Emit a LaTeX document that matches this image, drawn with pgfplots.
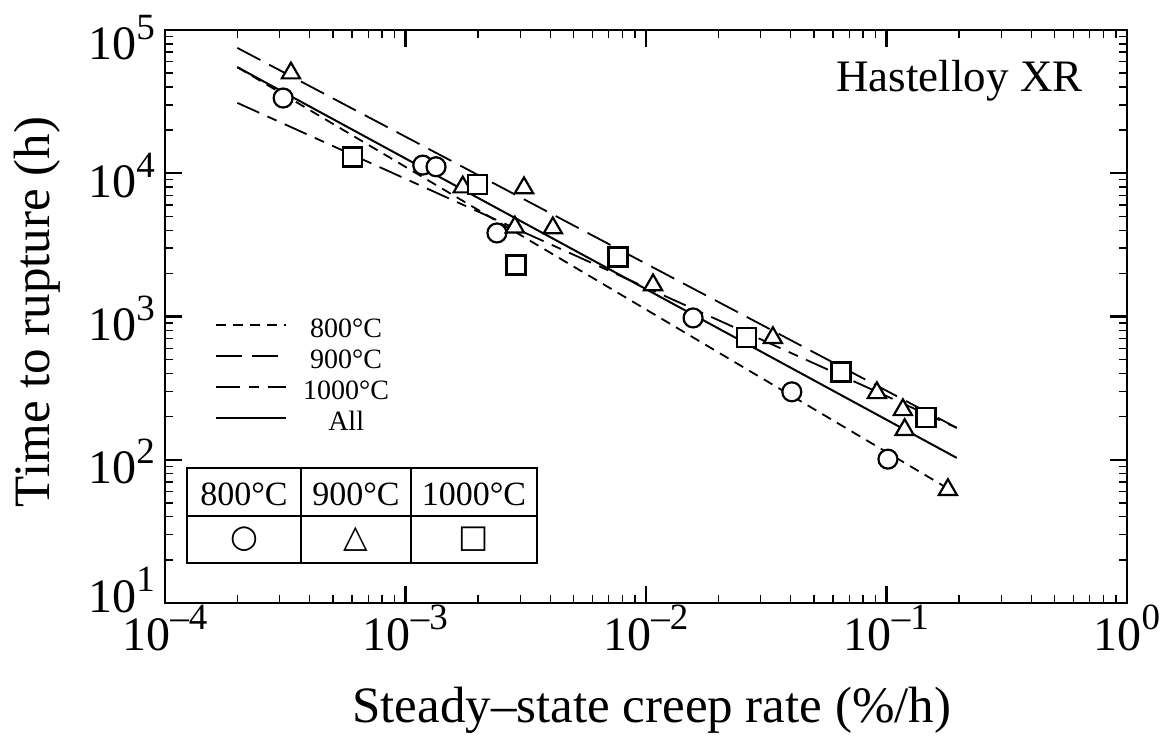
\documentclass[border=0pt]{standalone}
\usepackage{fontspec}
\setmainfont{Liberation Serif}
\newfontfamily\symfont{DejaVu Sans}
\usepackage{pgfplots}
\pgfplotsset{compat=1.18}
\newcommand{\sfz}[1]{\fontsize{#1}{#1}\selectfont}
\newcommand{\tl}[1]{10\raisebox{0.42em}{\sfz{37pt}#1}}
\begin{document}
\begin{tikzpicture}
\begin{axis}[
  at={(0pt,0pt)}, anchor=south west,
  scale only axis, width=962pt, height=573pt,
  xmode=log, ymode=log,
  xmin=1e-4, xmax=1, ymin=10, ymax=1e5,
  axis line style={line width=2.8pt},
  every major tick/.append style={line width=2.2pt, black},
  every minor tick/.append style={line width=1.4pt, black},
  major tick length=17pt, minor tick length=8pt,
  xtick={1e-4,1e-3,1e-2,1e-1,1},
  xticklabels={\tl{–4},\tl{–3},\tl{–2},\tl{–1},\tl{0}},
  ytick={10,100,1000,10000,100000},
  yticklabels={\raisebox{15pt}{\tl{1}},\tl{2},\tl{3},\tl{4},\raisebox{-6pt}{\tl{5}}},
  ticklabel style={font=\sfz{48pt}},
  xticklabel style={anchor=base, yshift=-47pt, inner sep=0pt},
  yticklabel style={anchor=base east, yshift=-24pt, xshift=-10pt, inner sep=0pt},
  xlabel={Steady–state creep rate (\%/h)},
  ylabel={Time to rupture (h)},
  xlabel style={font=\sfz{51pt}, at={(axis description cs:0.506,-0.2077)}, anchor=base, inner sep=0pt},
  ylabel style={font=\sfz{51pt}, at={(axis description cs:-0.133,0.508)}, anchor=center, inner sep=0pt},
  legend style={at={(rel axis cs:0.052,0.501)}, anchor=north west, draw=none, fill=none,
    inner sep=0pt, font=\sfz{28pt}, row sep=0pt, column sep=16pt,
    nodes={inner sep=0pt, text height=21pt, text depth=10pt}},
  legend cell align=center,
  legend image code/.code={\draw[#1] (0pt,7pt) -- (70pt,7pt);},
]
% fitted lines
\addplot[black, line width=1.8pt, dash pattern=on 10pt off 7pt] coordinates {(2e-4,5.5e4) (0.18,63)};
\addlegendentry{800°C}
\addplot[black, line width=1.8pt, dash pattern=on 26pt off 10pt] coordinates {(2e-4,7.5e4) (0.196,167)};
\addlegendentry{900°C}
\addplot[black, line width=1.8pt, dash pattern=on 24pt off 9pt on 10pt off 9pt] coordinates {(2e-4,3.1e4) (0.196,167)};
\addlegendentry{1000°C}
\addplot[black, line width=2pt] coordinates {(2e-4,5.5e4) (0.196,103)};
\addlegendentry{All}
% 800 C circles
\addplot[forget plot, only marks, mark=*, mark size=9.5pt, mark options={fill=white, draw=black, line width=2.2pt}] coordinates {
(3.10e-4,3.35e4) (1.18e-3,1.14e4) (1.34e-3,1.11e4) (2.40e-3,3.83e3) (1.57e-2,977) (0.0404,298) (0.1014,101)};
% 900 C triangles
\addplot[forget plot, only marks, mark=triangle*, mark size=10.5pt, mark options={fill=white, draw=black, line width=2.2pt}] coordinates {
(3.34e-4,5.0e4) (1.73e-3,8.0e3) (3.11e-3,7.9e3) (2.85e-3,4.2e3) (4.1e-3,4.15e3) (1.07e-2,1.66e3) (0.0337,710) (0.0912,293) (0.117,223) (0.119,162) (0.180,61.7)};
% 1000 C squares
\addplot[forget plot, only marks, mark=square*, mark size=9.5pt, mark options={fill=white, draw=black, line width=2.2pt}] coordinates {
(6.0e-4,1.30e4) (2.0e-3,8.3e3) (2.88e-3,2.29e3) (7.65e-3,2.6e3) (0.0261,710) (0.0647,410) (0.146,196)};
% title
\node[anchor=base, font=\sfz{45pt}, inner sep=0pt] at (rel axis cs:0.826,0.892) {Hastelloy XR};
% symbol table
\draw[line width=1.5pt] (rel axis cs:0.02287,0.2356) rectangle (rel axis cs:0.38669,0.0698);
\draw[line width=1.5pt] (rel axis cs:0.02287,0.1518) -- (rel axis cs:0.38669,0.1518);
\draw[line width=1.5pt] (rel axis cs:0.14137,0.2356) -- (rel axis cs:0.14137,0.0698);
\draw[line width=1.5pt] (rel axis cs:0.25572,0.2356) -- (rel axis cs:0.25572,0.0698);
\node[anchor=base, font=\sfz{34pt}, inner sep=0pt] at (rel axis cs:0.0821,0.1710) {800°C};
\node[anchor=base, font=\sfz{34pt}, inner sep=0pt] at (rel axis cs:0.1985,0.1710) {900°C};
\node[anchor=base, font=\sfz{34pt}, inner sep=0pt] at (rel axis cs:0.3212,0.1710) {1000°C};
\node[anchor=center, font=\symfont\sfz{32pt}, inner sep=0pt] at (rel axis cs:0.0821,0.1108) {○};
\node[anchor=center, font=\symfont\sfz{32pt}, inner sep=0pt] at (rel axis cs:0.1985,0.1108) {△};
\node[anchor=center, font=\symfont\sfz{32pt}, inner sep=0pt] at (rel axis cs:0.3212,0.1108) {□};
\end{axis}
\pgfresetboundingbox
\path[use as bounding box] (-165pt,-139pt) rectangle (999pt,603pt);
\end{tikzpicture}
\end{document}
